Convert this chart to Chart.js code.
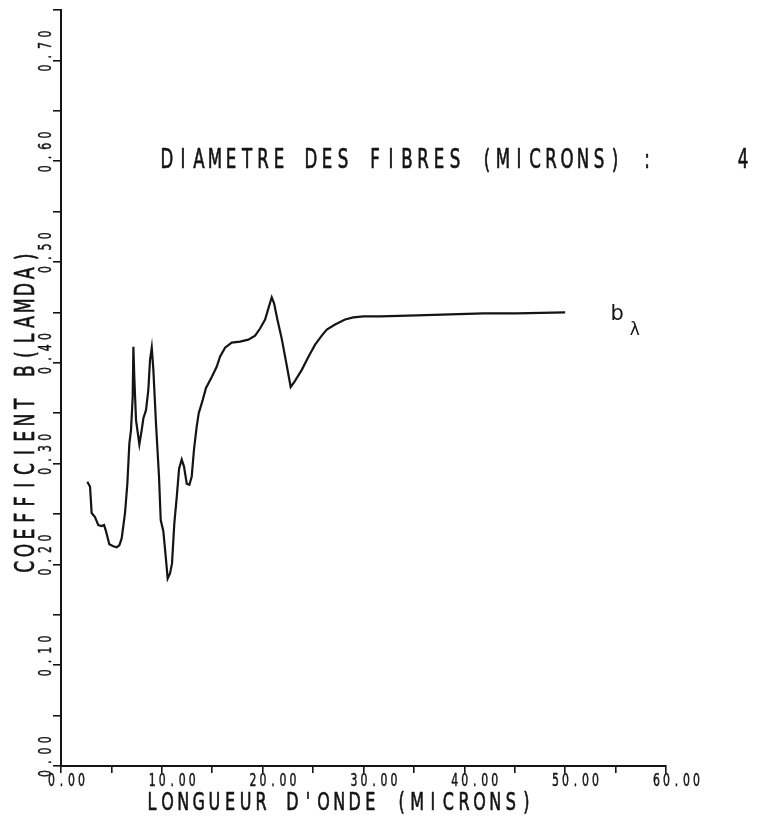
<!DOCTYPE html>
<html>
<head>
<meta charset="utf-8">
<script src="https://cdn.jsdelivr.net/npm/chart.js@4.4.1/dist/chart.umd.min.js"></script>
<style>
  html, body { margin: 0; padding: 0; background: #ffffff; }
  canvas { display: block; }
</style>
</head>
<body>
<canvas id="chart" width="760" height="823"></canvas>
<script>
// Spectral coefficient b(lambda) of the fibre layer versus wavelength (microns)
const wavelength = [
  2.61, 2.88, 3.04, 3.37, 3.70, 4.03, 4.27, 4.46, 4.79, 5.19,
  5.52, 5.79, 6.02, 6.35, 6.58, 6.78, 6.94, 7.11, 7.18, 7.27,
  7.44, 7.77, 8.00, 8.17, 8.43, 8.66, 8.83, 9.00, 9.16, 9.42,
  9.72, 9.89, 10.15, 10.42, 10.58, 10.81, 11.01, 11.24, 11.48, 11.71,
  11.97, 12.20, 12.47, 12.73, 12.96, 13.19, 13.46, 13.66, 14.05, 14.38,
  14.95, 15.44, 15.77, 16.27, 16.93, 17.76, 18.58, 19.25, 19.74, 20.24,
  20.57, 20.90, 21.13, 21.46, 21.89, 22.32, 22.78, 23.21, 23.88, 24.54,
  25.20, 25.86, 26.36, 27.18, 28.17, 29.00, 29.99, 31.65, 35.3, 38.6,
  41.9, 45.2, 50.0
];
const coefficient = [
  0.282, 0.277, 0.251, 0.247, 0.239, 0.238, 0.239, 0.233, 0.220, 0.218,
  0.217, 0.219, 0.226, 0.251, 0.280, 0.320, 0.333, 0.366, 0.416, 0.386,
  0.343, 0.319, 0.333, 0.345, 0.353, 0.373, 0.403, 0.415, 0.393, 0.340,
  0.287, 0.244, 0.233, 0.204, 0.186, 0.191, 0.201, 0.241, 0.267, 0.295,
  0.304, 0.297, 0.280, 0.279, 0.287, 0.314, 0.337, 0.350, 0.363, 0.375,
  0.386, 0.396, 0.406, 0.415, 0.420, 0.421, 0.423, 0.427, 0.434, 0.443,
  0.454, 0.465, 0.459, 0.443, 0.424, 0.401, 0.376, 0.382, 0.393, 0.406,
  0.418, 0.427, 0.433, 0.438, 0.443, 0.445, 0.446, 0.446, 0.447, 0.448,
  0.449, 0.449, 0.450
];

const xTickValues = [0, 10, 20, 30, 40, 50, 60];
const xTickLabels = ['0.00', '10.00', '20.00', '30.00', '40.00', '50.00', '60.00'];
const yTickValues = [0, 0.1, 0.2, 0.3, 0.4, 0.5, 0.6, 0.7];
const yTickLabels = ['0.00', '0.10', '0.20', '0.30', '0.40', '0.50', '0.60', '0.70'];

const chartTitle = 'DIAMETRE DES FIBRES (MICRONS) :     4';
const xTitle = "LONGUEUR D'ONDE (MICRONS)";
const yTitle = 'COEFFICIENT B(LAMDA)';
const curveName = 'b';
const curveSub = 'λ';

// ---- styling ----
const INK = '#141414';
const FACE = "'DejaVu Sans', 'Liberation Sans', sans-serif";

// Monospaced "plotter" lettering: every glyph sits in a fixed-pitch cell and is
// squeezed horizontally. (x, y) is the leading edge of the first cell on the
// text's centre line; angle rotates the whole string about that point.
function plotterText(ctx, text, x, y, o) {
  const size = o.size, pitch = o.pitch, squeeze = o.squeeze || 0.6;
  const cap = size * 0.73;
  const cell = size * 0.62 * squeeze;
  ctx.save();
  ctx.translate(x, y);
  ctx.rotate(o.angle || 0);
  ctx.font = size + 'px ' + FACE;
  ctx.fillStyle = INK;
  ctx.strokeStyle = INK;
  ctx.lineWidth = o.stroke || 0.7;
  ctx.lineJoin = 'round';
  ctx.textAlign = 'center';
  ctx.textBaseline = 'alphabetic';
  for (let i = 0; i < text.length; i++) {
    const ch = text[i];
    if (ch === ' ') continue;
    ctx.save();
    ctx.translate(i * pitch + cell / 2, cap / 2);
    ctx.scale(squeeze, 1);
    ctx.fillText(ch, 0, 0);
    ctx.strokeText(ch, 0, 0);
    ctx.restore();
  }
  ctx.restore();
}

const lettering = {
  id: 'lettering',
  afterDraw(chart) {
    const ctx = chart.ctx;
    const xs = chart.scales.x, ys = chart.scales.y;
    const area = chart.chartArea;

    // x tick labels, starting just before each tick, below the tick marks
    xTickValues.forEach((v, i) => {
      const px = xs.getPixelForValue(v);
      plotterText(ctx, xTickLabels[i], px - 13, area.bottom + 14, { size: 17, pitch: 10, squeeze: 0.64, stroke: 0.5 });
    });
    // y tick labels, written upward and starting just below each tick
    yTickValues.forEach((v, i) => {
      const py = ys.getPixelForValue(v);
      plotterText(ctx, yTickLabels[i], area.left - 16, py + 11, { size: 17, pitch: 11.3, squeeze: 0.64, stroke: 0.5, angle: -Math.PI / 2 });
    });

    // axis titles
    plotterText(ctx, xTitle, 147, area.bottom + 35, { size: 25, pitch: 15.6, squeeze: 0.64 });
    plotterText(ctx, yTitle, 24, 572, { size: 27, pitch: 16.3, squeeze: 0.64, angle: -Math.PI / 2 });

    // heading inside the plotting area
    plotterText(ctx, chartTitle, xs.getPixelForValue(10), ys.getPixelForValue(0.603), { size: 26, pitch: 16, squeeze: 0.64 });

    // curve name b with subscript lambda
    ctx.save();
    ctx.fillStyle = INK;
    ctx.textAlign = 'left';
    ctx.textBaseline = 'alphabetic';
    ctx.font = '21px ' + FACE;
    ctx.fillText(curveName, xs.getPixelForValue(54.5), ys.getPixelForValue(0.4425));
    ctx.font = '17px ' + FACE;
    ctx.fillText(curveSub, xs.getPixelForValue(56.4), ys.getPixelForValue(0.428));
    ctx.restore();
  }
};

const axisGrid = (len) => ({
  display: true,
  drawOnChartArea: false,
  drawTicks: true,
  tickLength: len,
  color: INK,
  lineWidth: 1.6
});

new Chart(document.getElementById('chart'), {
  type: 'line',
  data: {
    datasets: [{
      data: wavelength.map((w, i) => ({ x: w, y: coefficient[i] })),
      borderColor: INK,
      borderWidth: 2.2,
      pointRadius: 0,
      tension: 0,
      fill: false
    }]
  },
  options: {
    responsive: false,
    animation: false,
    devicePixelRatio: 1,
    layout: { padding: { top: 10, right: 94, left: 0, bottom: 0 } },
    plugins: {
      legend: { display: false },
      tooltip: { enabled: false },
      title: { display: false }
    },
    scales: {
      x: {
        type: 'linear',
        min: 0,
        max: 60,
        ticks: { display: false, stepSize: 5 },
        grid: axisGrid(7),
        border: { display: true, color: INK, width: 2 },
        afterFit: (s) => { s.height = 57; }
      },
      y: {
        type: 'linear',
        min: 0,
        max: 0.75,
        ticks: { display: false, stepSize: 0.05 },
        grid: axisGrid(8),
        border: { display: true, color: INK, width: 2 },
        afterFit: (s) => { s.width = 61; }
      }
    }
  },
  plugins: [lettering]
});
</script>
</body>
</html>
